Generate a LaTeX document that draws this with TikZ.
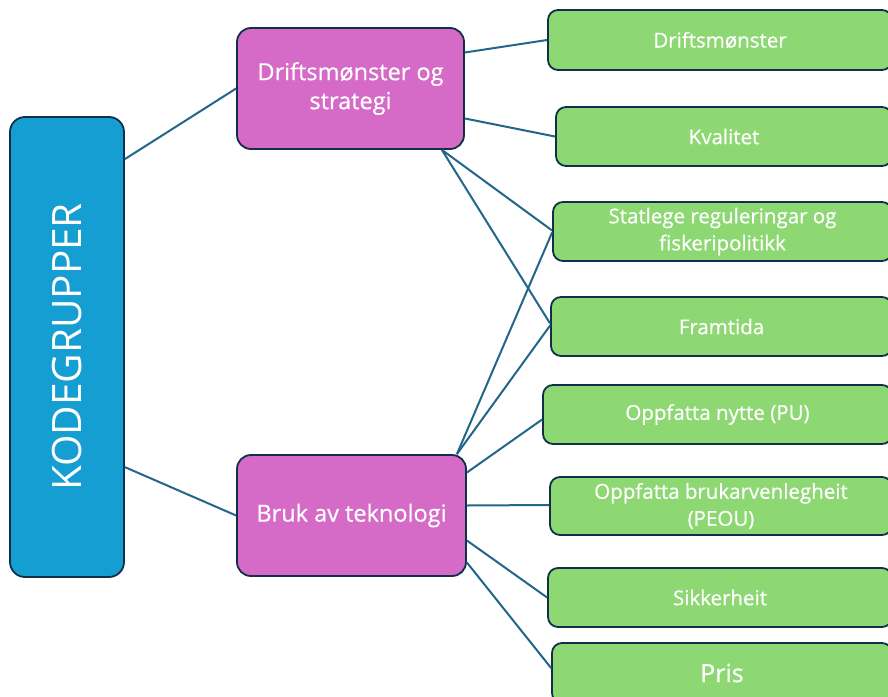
\documentclass[tikz,border=0pt]{standalone}
\usepackage{fontspec}
\setmainfont{Open Sans}[Ligatures=NoCommon]
\newfontfamily\medfont{Open Sans}[Ligatures=NoCommon, FakeBold=0.5]
\usetikzlibrary{calc}
\definecolor{kgblue}{HTML}{149ED2}
\definecolor{kgpink}{HTML}{D56BC6}
\definecolor{kggreen}{HTML}{8ED874}
\definecolor{kgedge}{HTML}{10304A}
\definecolor{kgline}{HTML}{22668A}
\tikzset{
  base/.style={draw=kgedge, line width=1.8pt, text=white, align=center, inner sep=0pt},
  bluebox/.style={base, fill=kgblue, rounded corners=15pt, minimum width=114pt, minimum height=460pt},
  pinkbox/.style={base, fill=kgpink, rounded corners=14pt, minimum height=121pt, font=\medfont\fontsize{23.5}{29}\selectfont},
  greenbox/.style={base, fill=kggreen, rounded corners=10pt, minimum height=59pt, font=\medfont\fontsize{20.5}{27}\selectfont},
  link/.style={draw=kgline, line width=2pt}
}
\begin{document}
\begin{tikzpicture}[x=1pt,y=-1pt]
\useasboundingbox (0,0) rectangle (888,696);
\fill[white] (0,0) rectangle (888,696);

\node[bluebox] (kg) at (67,347) {};
\node[text=white, rotate=90, font=\fontsize{40.5}{44}\selectfont] (kgt) at (67,347) {KODEGRUPPER};

\node[pinkbox, minimum width=227pt] (p1) at (350.5,88.5) {Driftsmønster og\\strategi};
\node[pinkbox, minimum width=229pt] (p2) at (351.5,515.5) {Bruk av teknologi};

\node[greenbox, minimum width=344pt, minimum height=60pt] (g1) at (720,40) {Driftsmønster};
\node[greenbox, minimum width=336pt] (g2) at (724,136.5) {Kvalitet};
\node[greenbox, minimum width=339pt] (g3) at (722.5,231.5) {Statlege reguleringar og\\fiskeripolitikk};
\node[greenbox, minimum width=341pt] (g4) at (721.5,326.5) {Framtida};
\node[greenbox, minimum width=349pt] (g5) at (717.5,414.5) {Oppfatta nytte (PU)};
\node[greenbox, minimum width=342pt, minimum height=58pt] (g6) at (721,506) {Oppfatta brukarvenlegheit\\(PEOU)};
\node[greenbox, minimum width=344pt] (g7) at (720,597.5) {Sikkerheit};
\node[greenbox, minimum width=340pt, minimum height=60pt, font=\medfont\fontsize{25}{30}\selectfont] (g8) at (722,673) {Pris};

\path[link] ($(kg.north east)+(0,43)$) -- (p1.west);
\path[link] ($(kg.north east)+(0,351)$) -- (p2.west);

\path[link] ($(p1.east)+(0,-36)$) -- (g1.west);
\path[link] ($(p1.east)+(0,30)$) -- (g2.west);
\path[link] ($(p1.south east)+(-23,0)$) -- ($(g3.west)+(0,-1)$);
\path[link] ($(p1.south east)+(-23,0)$) -- ($(g4.west)+(0,-3)$);

\path[link] ($(p2.north east)+(-10,0)$) -- ($(g3.west)+(0,1)$);
\path[link] ($(p2.north east)+(-10,0)$) -- ($(g4.west)+(0,-1)$);
\path[link] ($(p2.east)+(0,-43)$) -- ($(g5.west)+(0,5)$);
\path[link] ($(p2.east)+(0,-10)$) -- ($(g6.west)+(0,-1)$);
\path[link] ($(p2.east)+(0,25)$) -- (g7.west);
\path[link] ($(p2.east)+(0,47)$) -- ($(g8.west)+(0,-5)$);
\end{tikzpicture}
\end{document}
